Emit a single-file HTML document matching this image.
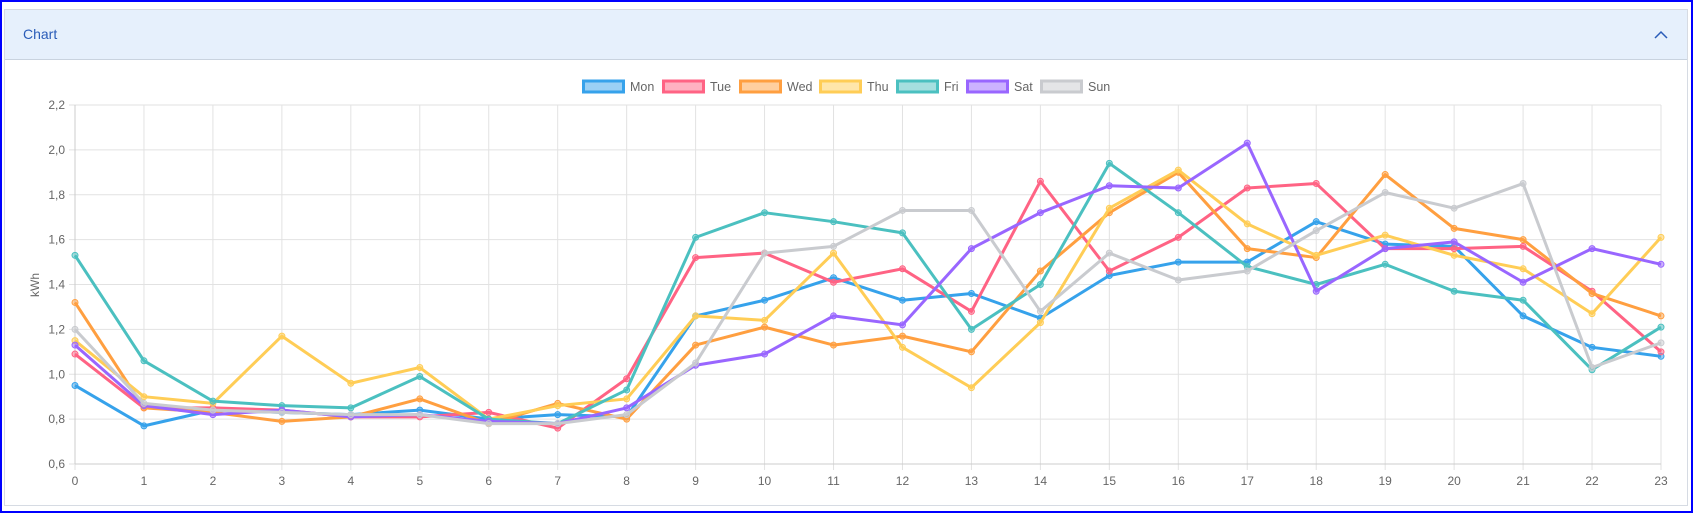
<!DOCTYPE html>
<html><head><meta charset="utf-8"><style>
body{margin:0;width:1693px;height:513px;overflow:hidden;background:#fff;font-family:"Liberation Sans",Arial,sans-serif}
#frame{position:absolute;left:0;top:0;width:1689px;height:509px;border:2px solid #0000ff}
#panel{position:absolute;left:4px;top:9px;width:1684px;height:497px;border:1px solid #d6dbe3;box-sizing:border-box}
#hdr{height:49px;background:#e6f0fc;border-bottom:1px solid #c9d3df;position:relative}
#hdr span{position:absolute;left:18px;top:16px;color:#2a5cb8;font-size:14px}
svg{position:absolute;left:0;top:0}
</style></head><body>
<div id="frame"></div>
<div id="panel"><div id="hdr"><span>Chart</span></div></div>
<svg id="c" width="1693" height="513"></svg>
<script>
const D={
Mon:["#36a2eb","rgba(54,162,235,0.5)",[0.95,0.77,0.84,0.83,0.82,0.84,0.80,0.82,0.81,1.26,1.33,1.43,1.33,1.36,1.25,1.44,1.50,1.50,1.68,1.58,1.57,1.26,1.12,1.08]],
Tue:["#ff6384","rgba(255,99,132,0.5)",[1.09,0.85,0.85,0.84,0.81,0.81,0.83,0.76,0.98,1.52,1.54,1.41,1.47,1.28,1.86,1.46,1.61,1.83,1.85,1.56,1.56,1.57,1.37,1.10]],
Wed:["#ff9f40","rgba(255,159,64,0.5)",[1.32,0.85,0.83,0.79,0.81,0.89,0.78,0.87,0.80,1.13,1.21,1.13,1.17,1.10,1.46,1.72,1.90,1.56,1.52,1.89,1.65,1.60,1.36,1.26]],
Thu:["#ffcd56","rgba(255,205,86,0.5)",[1.15,0.90,0.87,1.17,0.96,1.03,0.80,0.86,0.89,1.26,1.24,1.54,1.12,0.94,1.23,1.74,1.91,1.67,1.53,1.62,1.53,1.47,1.27,1.61]],
Fri:["#4bc0c0","rgba(75,192,192,0.5)",[1.53,1.06,0.88,0.86,0.85,0.99,0.80,0.78,0.93,1.61,1.72,1.68,1.63,1.20,1.40,1.94,1.72,1.48,1.40,1.49,1.37,1.33,1.02,1.21]],
Sat:["#9966ff","rgba(153,102,255,0.5)",[1.13,0.86,0.82,0.84,0.81,0.82,0.79,0.78,0.85,1.04,1.09,1.26,1.22,1.56,1.72,1.84,1.83,2.03,1.37,1.56,1.59,1.41,1.56,1.49]],
Sun:["#c9cbcf","rgba(201,203,207,0.5)",[1.20,0.87,0.84,0.83,0.82,0.82,0.78,0.78,0.82,1.05,1.54,1.57,1.73,1.73,1.28,1.54,1.42,1.46,1.64,1.81,1.74,1.85,1.03,1.14]]};
const X0=75,XS=(1661-75)/23,Y0=464,YT=105;
const X=i=>X0+i*XS, Y=v=>Y0-(v-0.6)/1.6*(Y0-YT);
let s='';
for(let i=0;i<24;i++){s+=`<line x1="${X(i)}" y1="${YT}" x2="${X(i)}" y2="${Y0+6}" stroke="#e2e2e2"/>`;
 s+=`<text x="${X(i)}" y="${Y0+21}" font-size="12" fill="#666" text-anchor="middle">${i}</text>`;}
for(let k=0;k<=8;k++){const v=0.6+k*0.2,y=Y(v);s+=`<line x1="${X0-6}" y1="${y}" x2="1661" y2="${y}" stroke="#e2e2e2"/>`;
 s+=`<text x="${X0-10}" y="${y+4}" font-size="12" fill="#666" text-anchor="end">${v.toFixed(1).replace('.',',')}</text>`;}
s+=`<line x1="${X0}" y1="${YT}" x2="${X0}" y2="${Y0}" stroke="#ccc"/><line x1="${X0}" y1="${Y0}" x2="1661" y2="${Y0}" stroke="#ccc"/>`;
s+=`<text transform="translate(39,285) rotate(-90)" font-size="12" fill="#666" text-anchor="middle">kWh</text>`;
const lx=[582,662,739,819,896,966,1040];let j=0;
for(const k in D){const [c,f,d]=D[k];
 s+=`<polyline fill="none" stroke="${c}" stroke-width="3" stroke-linejoin="round" points="${d.map((v,i)=>X(i)+','+Y(v)).join(' ')}"/>`;
 d.forEach((v,i)=>s+=`<circle cx="${X(i)}" cy="${Y(v)}" r="3" fill="${f}" stroke="${c}" stroke-width="1"/>`);
 s+=`<rect x="${lx[j]+1.5}" y="81" width="40" height="11" fill="${f}" stroke="${c}" stroke-width="3"/><text x="${lx[j]+48}" y="91" font-size="12.5" fill="#666">${k}</text>`;j++;}
s+=`<polyline points="1655,38 1661,32 1667,38" fill="none" stroke="#2a5cb8" stroke-width="1.5"/>`;
document.getElementById('c').innerHTML=s;
</script>
</body></html>
